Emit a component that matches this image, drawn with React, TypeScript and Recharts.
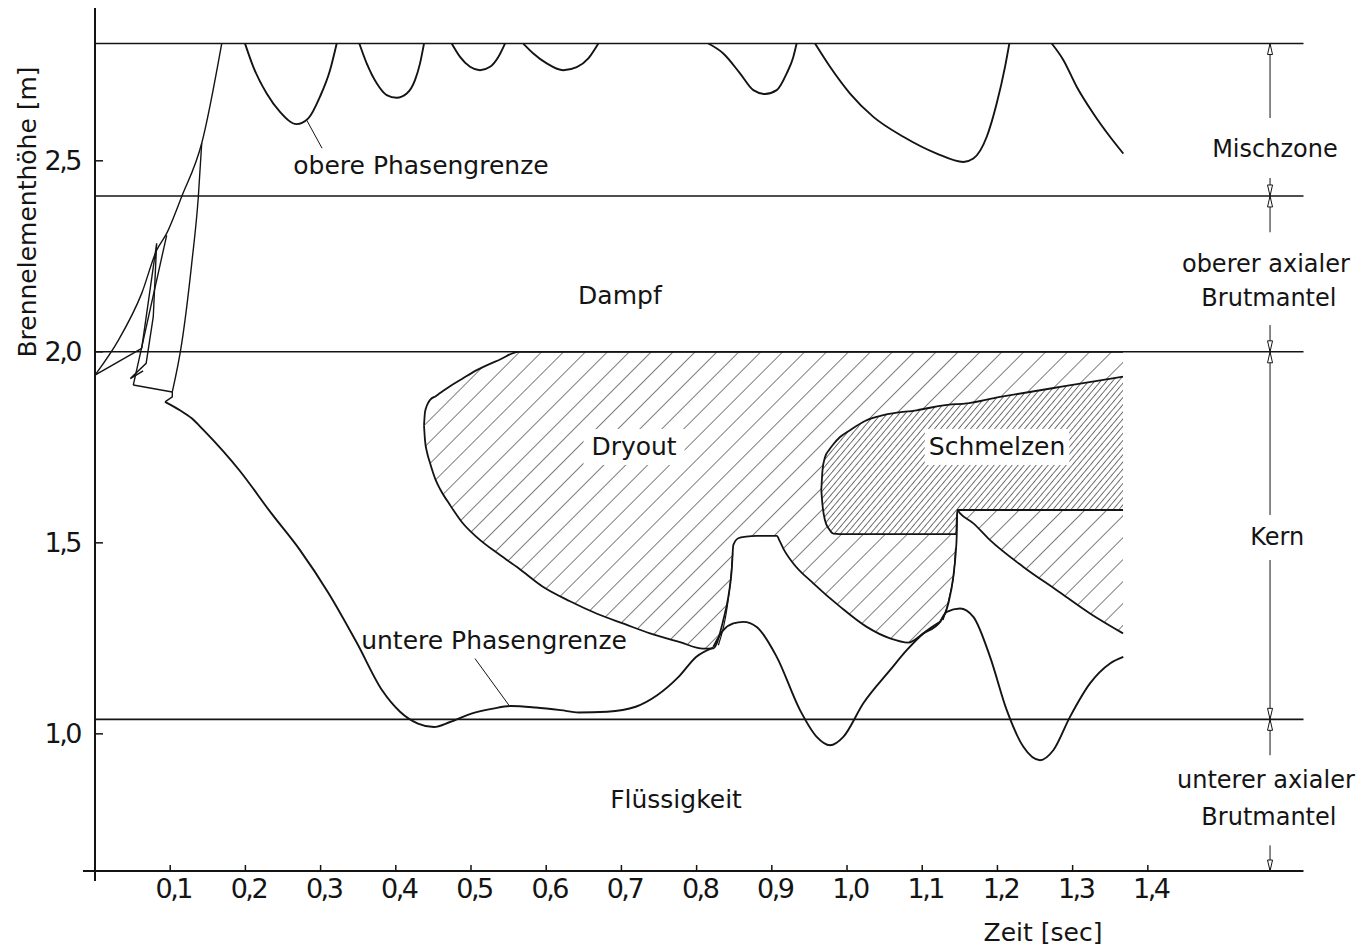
import React from 'react';
import {
  ComposedChart,
  Line,
  Area,
  XAxis,
  YAxis,
  ReferenceLine,
  ReferenceDot,
} from 'recharts';

const FONT = "'DejaVu Sans', sans-serif";
const INK = '#141414';

// axes
const X_TICKS = [0.1, 0.2, 0.3, 0.4, 0.5, 0.6, 0.7, 0.8, 0.9, 1.0, 1.1, 1.2, 1.3, 1.4];
const Y_TICKS = [1.0, 1.5, 2.0, 2.5];
const X_END = 1.607;
const Y_BASE = 0.641;
const Y_TOP = 2.9;

// zone boundaries (height in m)
const ZONE_BOUNDS = [2.807, 2.408, 2.0, 1.038];

// upper phase boundary: arcs hanging from the top of the mixing zone
const upperArc1 = [[0.1995, 2.807], [0.2105, 2.746], [0.2283, 2.676], [0.246, 2.628], [0.2682, 2.596], [0.2836, 2.611], [0.2992, 2.668], [0.3125, 2.737], [0.3214, 2.807]];
const upperArc2 = [[0.3515, 2.807], [0.3613, 2.755], [0.3746, 2.703], [0.3879, 2.672], [0.4012, 2.665], [0.4145, 2.676], [0.4255, 2.711], [0.4322, 2.755], [0.4375, 2.807]];
const upperArc3 = [[0.4743, 2.807], [0.4854, 2.772], [0.4987, 2.746], [0.512, 2.737], [0.5253, 2.746], [0.5363, 2.772], [0.5452, 2.807]];
const upperArc4 = [[0.5695, 2.807], [0.5829, 2.781], [0.6007, 2.755], [0.6227, 2.737], [0.6406, 2.745], [0.656, 2.768], [0.6693, 2.807]];
const upperArc5 = [[0.8156, 2.807], [0.8355, 2.781], [0.8577, 2.729], [0.8754, 2.685], [0.891, 2.675], [0.9065, 2.685], [0.9198, 2.729], [0.9286, 2.772], [0.933, 2.807]];
const upperArc6 = [[0.9574, 2.807], [0.9774, 2.746], [1.004, 2.676], [1.035, 2.615], [1.0749, 2.563], [1.1193, 2.519], [1.1547, 2.497], [1.168, 2.506], [1.1858, 2.563], [1.199, 2.65], [1.2101, 2.746], [1.2158, 2.807]];
const upperArc7 = [[1.2722, 2.807], [1.2876, 2.764], [1.3054, 2.694], [1.3275, 2.624], [1.3497, 2.563], [1.3674, 2.519]];

// start-up transient near t = 0
const startRise = [[0, 1.939], [0.031, 2.03], [0.0621, 2.153], [0.082, 2.266], [0.0953, 2.31], [0.1152, 2.406], [0.1419, 2.546], [0.1685, 2.807]];
const startChord = [[0, 1.939], [0.0621, 2.009]];
const startSpike1 = [[0.0621, 2.009], [0.082, 2.284], [0.0775, 2.092], [0.068, 1.97], [0.047, 1.93], [0.064, 1.95]];
const startSpike2 = [[0.0509, 1.913], [0.0953, 2.305]];
const startFloor = [[0.0509, 1.913], [0.1028, 1.895]];
const startSteep = [[0.1028, 1.895], [0.1153, 2.022], [0.1286, 2.231], [0.1374, 2.406], [0.1419, 2.546]];
const startHook = [[0.1028, 1.895], [0.1028, 1.882], [0.0931, 1.869]];

// lower phase boundary
const lowerBoundary = [[0.0931, 1.869], [0.113, 1.847], [0.1286, 1.826], [0.1444, 1.795], [0.1919, 1.69], [0.2346, 1.577], [0.2726, 1.481], [0.3106, 1.368], [0.3485, 1.237], [0.3818, 1.114], [0.4056, 1.058], [0.4294, 1.027], [0.4507, 1.018], [0.4721, 1.031], [0.5005, 1.053], [0.5291, 1.066], [0.5528, 1.073], [0.586, 1.069], [0.6193, 1.062], [0.6431, 1.056], [0.681, 1.058], [0.719, 1.071], [0.7475, 1.101], [0.776, 1.149], [0.7997, 1.202], [0.8222, 1.226]];
const wave1 = [[0.8222, 1.2277], [0.8355, 1.2715], [0.8488, 1.289], [0.8621, 1.2932], [0.8799, 1.28], [0.9065, 1.2016], [0.9375, 1.062], [0.9597, 0.992], [0.9774, 0.97], [0.9951, 0.992], [1.0217, 1.08], [1.0572, 1.1667], [1.0794, 1.219], [1.1015, 1.2628], [1.1237, 1.2932]];
const wave2 = [[1.1237, 1.2932], [1.1326, 1.3194], [1.1503, 1.3283], [1.168, 1.3063], [1.1902, 1.2016], [1.2124, 1.062], [1.2345, 0.966], [1.2566, 0.931], [1.2743, 0.957], [1.2965, 1.0445], [1.3231, 1.132], [1.3497, 1.1843], [1.3674, 1.2016]];
const spike1Inner = [[0.8289, 1.232], [0.8405, 1.33], [0.8455, 1.41], [0.848, 1.473]];
const spike2Inner = [[1.1277, 1.298], [1.1375, 1.37], [1.1425, 1.43], [1.1443, 1.486]];

// dryout band: [t, lower edge, upper edge]
const dryoutBand = [
  [0.4375, 1.807, 1.807], [0.4388, 1.769, 1.842], [0.4415, 1.737, 1.86], [0.4455, 1.709, 1.874],
  [0.4531, 1.664, 1.884], [0.4588, 1.641, 1.892], [0.4721, 1.599, 1.91], [0.488, 1.554, 1.929],
  [0.5076, 1.515, 1.952], [0.5386, 1.468, 1.98], [0.5629, 1.434, 2.0], [0.5956, 1.385, 2.0],
  [0.6316, 1.347, 2.0], [0.6668, 1.315, 2.0], [0.7048, 1.287, 2.0], [0.738, 1.263, 2.0],
  [0.7779, 1.24, 2.0], [0.8085, 1.223, 2.0], [0.8222, 1.224, 2.0], [0.8355, 1.298, 2.0],
  [0.8422, 1.359, 2.0], [0.8467, 1.429, 2.0], [0.8488, 1.494, 2.0], [0.8555, 1.512, 2.0],
  [0.8657, 1.516, 2.0], [0.8799, 1.518, 2.0], [0.9065, 1.518, 2.0], [0.9109, 1.503, 2.0],
  [0.9153, 1.485, 2.0], [0.9286, 1.446, 2.0], [0.9552, 1.394, 2.0], [0.9907, 1.333, 2.0],
  [1.0262, 1.28, 2.0], [1.0572, 1.25, 2.0], [1.0815, 1.239, 2.0], [1.1015, 1.263, 2.0],
  [1.1237, 1.293, 2.0], [1.1347, 1.341, 2.0], [1.1413, 1.411, 2.0], [1.1445, 1.472, 2.0],
  [1.1459, 1.52, 2.0], [1.1465, 1.586, 2.0], [1.1503, 1.577, 2.0], [1.168, 1.551, 2.0],
  [1.1902, 1.507, 2.0], [1.2345, 1.437, 2.0], [1.2789, 1.376, 2.0], [1.3231, 1.315, 2.0],
  [1.367, 1.263, 2.0],
];

// melting band: [t, lower edge, upper edge]
const meltBand = [
  [0.9658, 1.638, 1.638], [0.9674, 1.599, 1.69], [0.9707, 1.559, 1.724], [0.9761, 1.536, 1.743],
  [0.9818, 1.524, 1.758], [0.9907, 1.523, 1.777], [1.004, 1.523, 1.795], [1.0239, 1.523, 1.819],
  [1.0483, 1.523, 1.834], [1.0927, 1.523, 1.847], [1.1452, 1.523, 1.863], [1.1465, 1.586, 1.863],
  [1.2035, 1.586, 1.882], [1.2832, 1.586, 1.908], [1.367, 1.586, 1.935],
];

// leader lines for the two boundary captions
const leaderUpper = [[0.2815, 2.6065], [0.3019, 2.533]];
const leaderLower = [[0.5504, 1.075], [0.5053, 1.197]];

// dimension line on the right: segments and arrow tips
const DIM_X = 1.5625;
const dimSegments = [[2.807, 2.612], [2.455, 2.408], [2.408, 2.313], [2.07, 2.0], [2.0, 1.573], [1.455, 1.038], [1.038, 0.944], [0.708, 0.641]];
const arrowsUp = [2.807, 2.408, 2.0, 1.038];
const arrowsDown = [2.408, 2.0, 1.038, 0.641];

// captions placed at (t, height)
const captions = [
  { text: 'obere Phasengrenze', x: 0.4335, y: 2.489 },
  { text: 'Dampf', x: 0.698, y: 2.148 },
  { text: 'untere Phasengrenze', x: 0.5306, y: 1.245 },
  { text: 'Flüssigkeit', x: 0.7726, y: 0.827 },
  { text: 'Mischzone', x: 1.569, y: 2.531 },
  { text: 'oberer axialer', x: 1.557, y: 2.23 },
  { text: 'Brutmantel', x: 1.561, y: 2.14 },
  { text: 'Kern', x: 1.572, y: 1.515 },
  { text: 'unterer axialer', x: 1.557, y: 0.879 },
  { text: 'Brutmantel', x: 1.561, y: 0.782 },
];
const boxedCaptions = [
  { text: 'Dryout', x: 0.7168, y: 1.751 },
  { text: 'Schmelzen', x: 1.1995, y: 1.751 },
];

const toPoints = (arr: number[][]) => arr.map(([x, y]) => ({ x, y }));
const toBand = (arr: number[][]) => arr.map(([x, lo, hi]) => ({ x, band: [lo, hi] }));

const curves: { id: string; pts: number[][]; kind: 'monotone' | 'linear'; w?: number }[] = [
  { id: 'ua1', pts: upperArc1, kind: 'monotone' },
  { id: 'ua2', pts: upperArc2, kind: 'monotone' },
  { id: 'ua3', pts: upperArc3, kind: 'monotone' },
  { id: 'ua4', pts: upperArc4, kind: 'monotone' },
  { id: 'ua5', pts: upperArc5, kind: 'monotone' },
  { id: 'ua6', pts: upperArc6, kind: 'monotone' },
  { id: 'ua7', pts: upperArc7, kind: 'monotone' },
  { id: 'sr', pts: startRise, kind: 'monotone', w: 1.4 },
  { id: 'sc', pts: startChord, kind: 'linear', w: 1.4 },
  { id: 's1', pts: startSpike1, kind: 'linear', w: 1.4 },
  { id: 's2', pts: startSpike2, kind: 'linear', w: 1.4 },
  { id: 'sf', pts: startFloor, kind: 'linear', w: 1.4 },
  { id: 'ss', pts: startSteep, kind: 'monotone', w: 1.4 },
  { id: 'sh', pts: startHook, kind: 'linear', w: 1.4 },
  { id: 'lb', pts: lowerBoundary, kind: 'monotone' },
  { id: 'w1', pts: wave1, kind: 'monotone' },
  { id: 'w2', pts: wave2, kind: 'monotone' },
  { id: 'k1', pts: spike1Inner, kind: 'monotone', w: 1.2 },
  { id: 'k2', pts: spike2Inner, kind: 'monotone', w: 1.2 },
  { id: 'l1', pts: leaderUpper, kind: 'linear', w: 1 },
  { id: 'l2', pts: leaderLower, kind: 'linear', w: 1 },
];

const fmt = (v: number) => v.toFixed(1).replace('.', ',');

const XTick = (p: any) => {
  const { x, y, payload } = p;
  return (
    <g>
      <line x1={x} x2={x} y1={y} y2={y - 6} stroke={INK} strokeWidth={1.5} />
      <text x={x + 3} y={y + 27} textAnchor="middle" fontFamily={FONT} fontSize={27} fill={INK} letterSpacing={-2.5}>
        {fmt(payload.value)}
      </text>
    </g>
  );
};

const YTick = (p: any) => {
  const { x, y, payload } = p;
  return (
    <g>
      <line x1={x} x2={x + 8} y1={y} y2={y} stroke={INK} strokeWidth={1.5} />
      <text x={x - 15} y={y} textAnchor="end" dominantBaseline="central" fontFamily={FONT} fontSize={27} fill={INK} letterSpacing={-2.5}>
        {fmt(payload.value)}
      </text>
    </g>
  );
};

const caption = (text: string, boxed: boolean, size = 25, rotate = 0) => (p: any) => {
  const { cx, cy } = p;
  const w = text.length * 14.5 + 14;
  return (
    <g transform={rotate ? `rotate(${rotate} ${cx} ${cy})` : undefined}>
      {boxed && <rect x={cx - w / 2} y={cy - 18} width={w} height={36} fill="#fff" />}
      <text x={cx} y={cy} textAnchor="middle" dominantBaseline="central" fontFamily={FONT} fontSize={size} fill={INK}>
        {text}
      </text>
    </g>
  );
};

const arrowHead = (dir: 1 | -1) => (p: any) => {
  const { cx, cy } = p;
  // dir 1: tip at cy pointing up, body below; dir -1: tip pointing down
  const b = cy + dir * 11;
  return <polygon points={`${cx},${cy} ${cx - 2.5},${b} ${cx + 2.5},${b}`} fill="#fff" stroke={INK} strokeWidth={1} />;
};

export default function App() {
  return (
    <ComposedChart width={1357} height={943} margin={{ top: 0, right: 61.5, bottom: 0, left: 0 }}>
      <defs>
        <pattern id="hatchWide" patternUnits="userSpaceOnUse" width={15.5} height={15.5} patternTransform="rotate(45)">
          <line x1={0} y1={0} x2={0} y2={15.5} stroke={INK} strokeWidth={1.1} />
        </pattern>
        <pattern id="hatchDense" patternUnits="userSpaceOnUse" width={4.6} height={4.6} patternTransform="rotate(40)">
          <rect x={0} y={0} width={4.6} height={4.6} fill="#fff" />
          <line x1={0} y1={0} x2={0} y2={4.6} stroke={INK} strokeWidth={1.2} />
        </pattern>
      </defs>
      <XAxis
        type="number"
        dataKey="x"
        domain={[0, X_END]}
        allowDataOverflow
        ticks={X_TICKS}
        interval={0}
        tick={<XTick />}
        tickLine={false}
        axisLine={false}
        tickSize={0}
        tickMargin={0}
        height={80}
      />
      <YAxis
        type="number"
        domain={[Y_BASE, Y_TOP]}
        allowDataOverflow
        ticks={Y_TICKS}
        interval={0}
        tick={<YTick />}
        tickLine={false}
        axisLine={false}
        tickSize={0}
        tickMargin={0}
        width={87}
      />

      <Area
        data={toBand(dryoutBand)}
        dataKey="band"
        type="monotone"
        fill="url(#hatchWide)"
        fillOpacity={1}
        stroke={INK}
        strokeWidth={1.8}
        isAnimationActive={false}
        dot={false}
        activeDot={false}
      />
      <Area
        data={toBand(meltBand)}
        dataKey="band"
        type="monotone"
        fill="url(#hatchDense)"
        fillOpacity={1}
        stroke={INK}
        strokeWidth={1.8}
        isAnimationActive={false}
        dot={false}
        activeDot={false}
      />

      {ZONE_BOUNDS.map((v) => (
        <ReferenceLine key={`z${v}`} y={v} stroke={INK} strokeWidth={1.6} ifOverflow="visible" />
      ))}
      <ReferenceLine segment={[{ x: -0.016, y: Y_BASE }, { x: X_END, y: Y_BASE }]} stroke={INK} strokeWidth={2} ifOverflow="visible" />
      <ReferenceLine segment={[{ x: 0, y: 0.615 }, { x: 0, y: Y_TOP }]} stroke={INK} strokeWidth={2} ifOverflow="visible" />

      {dimSegments.map(([a, b], i) => (
        <ReferenceLine key={`d${i}`} segment={[{ x: DIM_X, y: a }, { x: DIM_X, y: b }]} stroke={INK} strokeWidth={1} ifOverflow="visible" />
      ))}
      {arrowsUp.map((v) => (
        <ReferenceDot key={`au${v}`} x={DIM_X} y={v} r={0} ifOverflow="visible" shape={arrowHead(1)} />
      ))}
      {arrowsDown.map((v) => (
        <ReferenceDot key={`ad${v}`} x={DIM_X} y={v} r={0} ifOverflow="visible" shape={arrowHead(-1)} />
      ))}

      {curves.map((c) => (
        <Line
          key={c.id}
          data={toPoints(c.pts)}
          dataKey="y"
          type={c.kind}
          stroke={INK}
          strokeWidth={c.w ?? 1.9}
          dot={false}
          activeDot={false}
          isAnimationActive={false}
          legendType="none"
        />
      ))}

      {boxedCaptions.map((c) => (
        <ReferenceDot key={c.text} x={c.x} y={c.y} r={0} ifOverflow="visible" shape={caption(c.text, true)} />
      ))}
      {captions.map((c, i) => (
        <ReferenceDot key={`c${i}`} x={c.x} y={c.y} r={0} ifOverflow="visible" shape={caption(c.text, false, c.x > 1.5 ? 24 : 25)} />
      ))}
      <ReferenceDot x={1.2606} y={0.481} r={0} ifOverflow="visible" shape={caption('Zeit [sec]', false)} />
      <ReferenceDot x={-0.0891} y={2.366} r={0} ifOverflow="visible" shape={caption('Brennelementhöhe [m]', false, 25, -90)} />
    </ComposedChart>
  );
}
